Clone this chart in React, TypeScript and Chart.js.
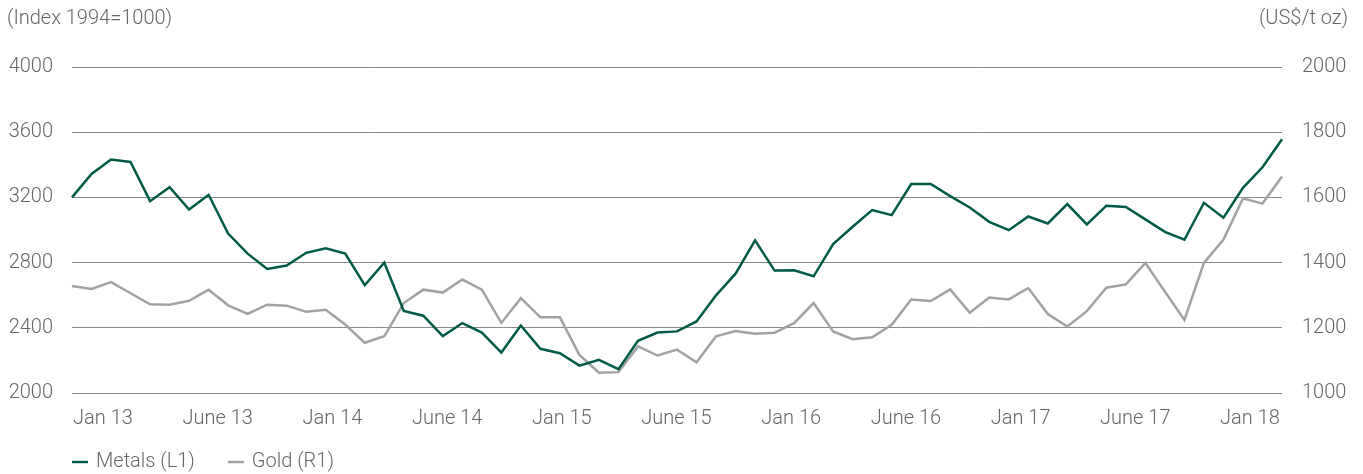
import React, { useEffect, useRef } from "react";
import { Chart, registerables } from "chart.js";

Chart.register(...registerables);

const months = [
  "Jan 13", "Feb 13", "Mar 13", "Apr 13", "May 13", "Jun 13", "Jul 13", "Aug 13", "Sep 13", "Oct 13", "Nov 13", "Dec 13",
  "Jan 14", "Feb 14", "Mar 14", "Apr 14", "May 14", "Jun 14", "Jul 14", "Aug 14", "Sep 14", "Oct 14", "Nov 14", "Dec 14",
  "Jan 15", "Feb 15", "Mar 15", "Apr 15", "May 15", "Jun 15", "Jul 15", "Aug 15", "Sep 15", "Oct 15", "Nov 15", "Dec 15",
  "Jan 16", "Feb 16", "Mar 16", "Apr 16", "May 16", "Jun 16", "Jul 16", "Aug 16", "Sep 16", "Oct 16", "Nov 16", "Dec 16",
  "Jan 17", "Feb 17", "Mar 17", "Apr 17", "May 17", "Jun 17", "Jul 17", "Aug 17", "Sep 17", "Oct 17", "Nov 17", "Dec 17",
  "Jan 18", "Feb 18", "Mar 18",
];

const metals = [
  3200, 3344, 3432, 3417, 3177, 3262, 3126, 3216, 2978, 2855, 2761, 2782, 2860, 2888, 2855, 2661,
  2800, 2503, 2474, 2349, 2429, 2371, 2248, 2414, 2271, 2244, 2168, 2203, 2146, 2320, 2371,
  2378, 2439, 2599, 2732, 2937, 2751, 2753, 2716, 2913, 3020, 3122, 3091, 3282, 3282, 3208, 3138,
  3050, 2999, 3083, 3040, 3159, 3034, 3149, 3141, 3065, 2989, 2940, 3167, 3075, 3259, 3385, 3557,
];

const gold = [
  1328, 1319, 1340, 1306, 1272, 1271, 1283, 1317, 1269, 1243, 1271, 1268, 1249, 1255, 1210, 1154,
  1174, 1276, 1317, 1308, 1348, 1317, 1215, 1291, 1232, 1232, 1117, 1062, 1064, 1143, 1115,
  1133, 1094, 1174, 1190, 1182, 1185, 1214, 1276, 1189, 1165, 1171, 1209, 1287, 1282, 1318, 1246,
  1293, 1287, 1322, 1242, 1204, 1251, 1323, 1333, 1399, 1311, 1224, 1399, 1471, 1597, 1581, 1664,
];

const tickLabels = [
  "Jan 13", "June 13", "Jan 14", "June 14", "Jan 15", "June 15",
  "Jan 16", "June 16", "Jan 17", "June 17", "Jan 18",
];

const leftTitle = "(Index 1994=1000)";
const rightTitle = "(US$/t oz)";
const seriesNames = ["Metals (L1)", "Gold (R1)"];

const GREEN = "#005a45";
const GREY_LINE = "#a2a2a2";
const TEXT = "#666666";
const GRID = "#8a8a8a";
const FONT_FAMILY = "Roboto, 'Liberation Sans', Arial, sans-serif";
const FONT = { family: FONT_FAMILY, size: 20, weight: "300" as any };

const overlayPlugin = {
  id: "overlayText",
  afterDraw(chart: any) {
    const ctx = chart.ctx;
    ctx.save();
    ctx.font = `300 20px ${FONT_FAMILY}`;
    ctx.fillStyle = TEXT;
    ctx.textBaseline = "middle";
    ctx.textAlign = "left";
    ctx.fillText(leftTitle, 7, 19);
    ctx.textAlign = "right";
    ctx.fillText(rightTitle, 1348, 19);

    // legend
    let x = chart.chartArea.left;
    const y = 462;
    ctx.textAlign = "left";
    chart.data.datasets.forEach((ds: any) => {
      ctx.strokeStyle = ds.borderColor;
      ctx.lineWidth = 2.5;
      ctx.beginPath();
      ctx.moveTo(x, y);
      ctx.lineTo(x + 16, y);
      ctx.stroke();
      const tx = x + 24;
      ctx.fillStyle = TEXT;
      ctx.fillText(ds.label, tx, y);
      x = tx + ctx.measureText(ds.label).width + 33;
    });
    ctx.restore();
  },
};

export default function App() {
  const ref = useRef<HTMLCanvasElement | null>(null);

  useEffect(() => {
    if (!ref.current) return;
    const chart = new Chart(ref.current, {
      type: "line",
      data: {
        labels: months,
        datasets: [
          {
            label: seriesNames[0],
            data: metals,
            borderColor: GREEN,
            backgroundColor: GREEN,
            borderWidth: 2.5,
            pointRadius: 0,
            tension: 0,
            xAxisID: "x",
            yAxisID: "yL",
          },
          {
            label: seriesNames[1],
            data: gold,
            borderColor: GREY_LINE,
            backgroundColor: GREY_LINE,
            borderWidth: 2.5,
            pointRadius: 0,
            tension: 0,
            xAxisID: "x",
            yAxisID: "yR",
          },
        ],
      },
      options: {
        responsive: false,
        animation: false,
        layout: { padding: { top: 67, left: 0, right: 0, bottom: 0 } },
        plugins: {
          legend: { display: false },
          tooltip: { enabled: false },
          title: { display: false },
        },
        scales: {
          x: {
            type: "category",
            display: false,
            offset: false,
          },
          xl: {
            type: "linear",
            position: "bottom",
            min: -0.2703,
            max: 10.279,
            grid: { display: false, drawTicks: false },
            border: { display: false },
            afterBuildTicks: (axis: any) => {
              axis.ticks = tickLabels.map((_, i) => ({ value: i }));
            },
            afterFit: (axis: any) => {
              axis.height = 81;
            },
            ticks: {
              autoSkip: false,
              maxRotation: 0,
              minRotation: 0,
              padding: 14,
              color: TEXT,
              font: FONT,
              callback: (v: any) => tickLabels[Math.round(Number(v))] ?? "",
            },
          },
          yL: {
            type: "linear",
            position: "left",
            min: 2000,
            max: 4000,
            afterFit: (axis: any) => {
              axis.width = 72;
            },
            grid: { color: GRID, lineWidth: 1, drawTicks: false },
            border: { display: false },
            ticks: {
              stepSize: 400,
              padding: 19,
              color: TEXT,
              font: FONT,
              callback: (v: any) => String(v),
            },
          },
          yR: {
            type: "linear",
            position: "right",
            min: 1000,
            max: 2000,
            afterFit: (axis: any) => {
              axis.width = 81;
            },
            grid: { display: false, drawTicks: false },
            border: { display: false },
            ticks: {
              stepSize: 200,
              padding: 20,
              color: TEXT,
              font: FONT,
              callback: (v: any) => String(v),
            },
          },
        },
      },
      plugins: [overlayPlugin],
    });
    return () => chart.destroy();
  }, []);

  return (
    <div style={{ position: "absolute", left: 0, top: 0, width: 1363, height: 474, background: "#fff" }}>
      <canvas ref={ref} width={1363} height={474} style={{ width: 1363, height: 474, display: "block" }} />
    </div>
  );
}
